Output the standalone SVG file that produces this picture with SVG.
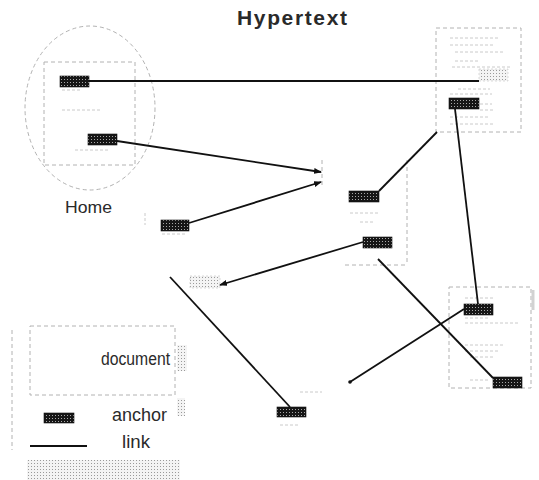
<svg xmlns="http://www.w3.org/2000/svg" width="539" height="480" viewBox="0 0 539 480">
<style>
.doc{fill:none;stroke:#b2b2b2;stroke-width:1;stroke-dasharray:4 3}
.txt{stroke:#cacaca;stroke-width:1;stroke-dasharray:3 2}
.anc{fill:url(#dark);stroke:#111;stroke-width:0.6}
.lanc{fill:url(#light);stroke:#c4c4c4;stroke-width:0.6;stroke-dasharray:2 2}
.link{stroke:#111;stroke-width:1.8;fill:none}
.lbl{font-family:"Liberation Sans",Arial,sans-serif;fill:#2a2a2a}
</style>
<defs>
<pattern id="dark" width="3" height="3" patternUnits="userSpaceOnUse">
<rect width="3" height="3" fill="#161616"/>
<rect x="1" y="1" width="1" height="1" fill="#a8a8a8"/>
</pattern>
<pattern id="light" width="3" height="3" patternUnits="userSpaceOnUse">
<rect width="3" height="3" fill="#f4f4f4"/>
<rect x="1" y="1" width="1" height="1" fill="#9a9a9a"/>
</pattern>
<marker id="arr" markerWidth="8" markerHeight="6" refX="7" refY="3" orient="auto" markerUnits="userSpaceOnUse">
<path d="M0,0 L8,3 L0,6 Z" fill="#111"/>
</marker>
</defs>
<rect width="539" height="480" fill="#fff"/>

<text id="title" x="237" y="25" class="lbl" font-size="21" font-weight="bold" fill="#111" textLength="110" lengthAdjust="spacing">Hypertext</text>

<g id="home">
<ellipse cx="90" cy="108" rx="65" ry="82" class="doc" stroke="#bdbdbd"/>
<rect x="44" y="62" width="91" height="103" class="doc"/>
<line x1="62" y1="90" x2="82" y2="90" class="txt"/>
<line x1="62" y1="110" x2="102" y2="110" class="txt"/>
<line x1="75" y1="150" x2="110" y2="150" class="txt"/>
<rect x="60" y="76" width="29" height="11" class="anc"/>
<rect x="88" y="134" width="29" height="11" class="anc"/>
<text x="65" y="213" class="lbl" font-size="17" fill="#555" textLength="47" lengthAdjust="spacingAndGlyphs">Home</text>
</g>

<g id="doc-top-right">
<rect x="436" y="28" width="85" height="104" class="doc"/>
<line x1="450" y1="38" x2="500" y2="38" class="txt"/>
<line x1="450" y1="45" x2="495" y2="45" class="txt"/>
<line x1="455" y1="52" x2="505" y2="52" class="txt"/>
<line x1="455" y1="61" x2="480" y2="61" class="txt"/>
<line x1="452" y1="67" x2="510" y2="67" class="txt"/>
<line x1="458" y1="89" x2="490" y2="89" class="txt"/>
<line x1="450" y1="94" x2="492" y2="94" class="txt"/>
<line x1="480" y1="104" x2="492" y2="104" class="txt"/>
<line x1="480" y1="110" x2="495" y2="110" class="txt"/>
<line x1="450" y1="117" x2="490" y2="117" class="txt"/>
<line x1="450" y1="124" x2="495" y2="124" class="txt"/>
<rect x="479" y="69" width="29" height="12" class="lanc"/>
<rect x="449" y="98" width="30" height="11" class="anc"/>
</g>

<g id="doc-middle">
<line x1="407" y1="160" x2="407" y2="265" class="doc"/>
<line x1="345" y1="265" x2="407" y2="265" class="doc"/>
<line x1="322" y1="160" x2="322" y2="185" class="doc"/>
<line x1="350" y1="213" x2="378" y2="213" class="txt"/>
<line x1="360" y1="222" x2="375" y2="222" class="txt"/>
<rect x="349" y="191" width="30" height="11" class="anc"/>
<rect x="363" y="237" width="29" height="11" class="anc"/>
</g>

<g id="doc-right">
<rect x="449" y="287" width="82" height="101" class="doc"/>
<line x1="533" y1="290" x2="533" y2="310" stroke="#d2d2d2" stroke-width="3"/>
<line x1="465" y1="298" x2="495" y2="298" class="txt"/>
<line x1="465" y1="318" x2="490" y2="318" class="txt"/>
<line x1="465" y1="323" x2="520" y2="323" class="txt"/>
<line x1="465" y1="345" x2="505" y2="345" class="txt"/>
<line x1="465" y1="351" x2="500" y2="351" class="txt"/>
<line x1="470" y1="357" x2="495" y2="357" class="txt"/>
<line x1="470" y1="380" x2="490" y2="380" class="txt"/>
<rect x="464" y="304" width="29" height="11" class="anc"/>
<rect x="493" y="377" width="29" height="11" class="anc"/>
</g>

<g id="doc-left">
<line x1="145" y1="213" x2="145" y2="225" class="txt"/>
<line x1="162" y1="234" x2="185" y2="234" class="txt"/>
<rect x="161" y="220" width="28" height="11" class="anc"/>
</g>

<g id="target-small">
<rect x="190" y="276" width="30" height="12" class="lanc"/>
</g>

<g id="doc-bottom">
<line x1="300" y1="392" x2="322" y2="392" class="txt"/>
<line x1="280" y1="425" x2="300" y2="425" class="txt"/>
<rect x="277" y="407" width="29" height="10" class="anc"/>
</g>

<g id="connectors">
<polyline points="89,81 479,81" class="link" stroke-width="2"/>
<line x1="117" y1="141" x2="321" y2="172" class="link" marker-end="url(#arr)"/>
<line x1="189" y1="223" x2="321" y2="182" class="link" marker-end="url(#arr)"/>
<line x1="379" y1="191" x2="437" y2="132" class="link"/>
<line x1="363" y1="242" x2="220" y2="285" class="link" marker-end="url(#arr)"/>
<line x1="378" y1="259" x2="493" y2="378" class="link"/>
<line x1="455" y1="109" x2="478" y2="304" class="link"/>
<line x1="464" y1="309" x2="350" y2="382" class="link"/>
<circle cx="350" cy="382" r="1.8" fill="#111"/>
<line x1="170" y1="277" x2="290" y2="407" class="link"/>
</g>

<g id="legend">
<rect x="30" y="326" width="145" height="69" class="doc"/>
<line x1="12" y1="330" x2="12" y2="450" class="doc"/>
<rect x="177" y="345" width="10" height="26" fill="url(#light)"/>
<rect x="177" y="398" width="8" height="18" fill="url(#light)"/>
<text x="101" y="365" class="lbl" font-size="17.5" textLength="69" lengthAdjust="spacingAndGlyphs">document</text>
<rect x="44" y="413" width="30" height="10" class="anc"/>
<text x="112" y="421" class="lbl" font-size="17.5" textLength="55" lengthAdjust="spacingAndGlyphs">anchor</text>
<line x1="30" y1="446" x2="87" y2="446" class="link"/>
<text x="122" y="448" class="lbl" font-size="17.5" textLength="28" lengthAdjust="spacingAndGlyphs">link</text>
<rect x="27" y="460" width="153" height="20" fill="url(#light)"/>
</g>
</svg>
